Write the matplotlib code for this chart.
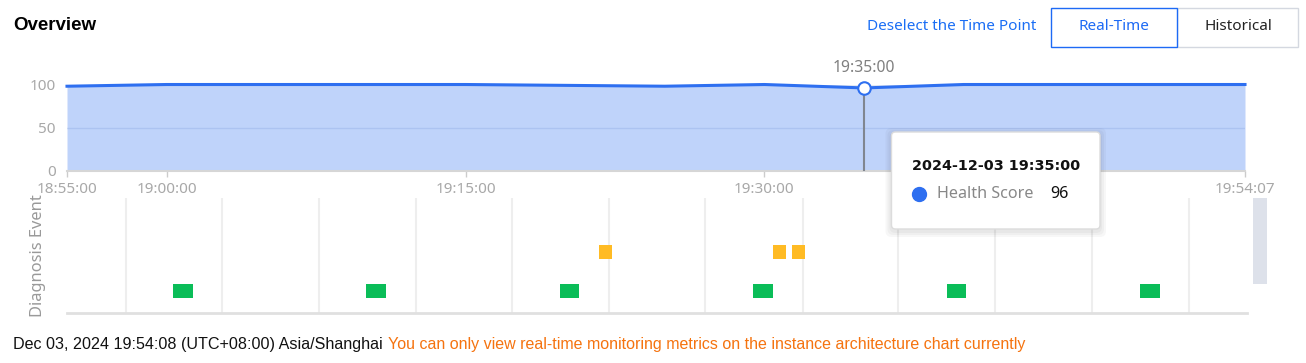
import matplotlib
matplotlib.use('Agg')
import matplotlib.pyplot as plt
from matplotlib.patches import Rectangle, FancyBboxPatch

# health score, sampled every 5 min
score_times = ['18:55:00', '19:00:00', '19:05:00', '19:10:00', '19:15:00', '19:20:00',
               '19:25:00', '19:30:00', '19:35:00', '19:40:00', '19:45:00', '19:50:00', '19:54:07']
score_values = [98, 100, 100, 100, 100, 99, 98, 100, 96, 100, 100, 100, 100]

x_tick_times = ['18:55:00', '19:00:00', '19:15:00', '19:30:00', '19:54:07']
y_ticks = [0, 50, 100]

selected_time = '19:35:00'
selected_value = 96

# diagnosis events
green_events = ['19:00:49', '19:10:30', '19:20:14', '19:29:56', '19:39:39', '19:49:21']
yellow_events = ['19:22:01', '19:30:45', '19:31:43']
event_grid = ['18:57:57', '19:02:48', '19:07:39', '19:12:30', '19:17:20', '19:22:11',
              '19:27:02', '19:31:56', '19:36:43', '19:41:35', '19:46:25', '19:51:19']

footer_time = 'Dec 03, 2024 19:54:08 (UTC+08:00) Asia/Shanghai'
footer_note = 'You can only view real-time monitoring metrics on the instance architecture chart currently'


def to_min(s):
    h, m, sec = map(int, s.split(':'))
    return h * 60 + m + sec / 60 - (18 * 60 + 55)


BLUE = '#2e6ff0'
GRAY = '#a8a8a8'
plt.rcParams['font.family'] = ['Noto Sans', 'DejaVu Sans']

fig = plt.figure(figsize=(13.06, 3.63), dpi=100)
W, H = 1306, 363


def px_axes(x0, y0, x1, y1):
    return fig.add_axes([x0 / W, 1 - y1 / H, (x1 - x0) / W, (y1 - y0) / H])


xmax = to_min('19:54:07')

# ---- top chart
ax = px_axes(67, 84.5, 1245, 170.5)
xs = [to_min(t) for t in score_times]
ax.fill_between(xs, score_values, 0, color=BLUE, alpha=0.3, lw=0, zorder=2)
ax.plot(xs, score_values, color=BLUE, lw=2.2, zorder=3, clip_on=False)
ax.set_xlim(0, xmax)
ax.set_ylim(0, 100)
ax.set_yticks(y_ticks)
ax.set_xticks([to_min(t) for t in x_tick_times])
ax.set_xticklabels(x_tick_times)
ax.tick_params(axis='y', length=0, pad=8, labelsize=11, labelcolor=GRAY)
ax.tick_params(axis='x', length=4, width=1, color='#cccccc', pad=4, labelsize=11, labelcolor=GRAY)
ax.grid(axis='y', color='#e3e8f2', lw=1, zorder=1)
for side in ['top', 'right', 'left']:
    ax.spines[side].set_visible(False)
ax.spines['bottom'].set_color('#d6d6d6')
ax.spines['bottom'].set_linewidth(1.5)

sx = to_min(selected_time)
ax.vlines(sx, 0, selected_value, color='#808690', lw=1.5, zorder=4)
ax.plot([sx], [selected_value], 'o', ms=9, mfc='white', mec=BLUE, mew=1.5, zorder=5, clip_on=False)
ax.annotate(selected_time, (sx, selected_value), xytext=(0, 20), textcoords='offset pixels',
            ha='center', va='center', fontsize=11.3, color='#808080', annotation_clip=False)

# ---- bottom chart
ax2 = px_axes(67, 198, 1247, 313.3)
ax2.set_xlim(0, xmax * 1180 / 1178)
ax2.set_ylim(0.43, 3.38)
ax2.bar([to_min(t) for t in green_events], 0.35, width=0.97, bottom=0.825, color='#0abd58', zorder=3)
ax2.bar([to_min(t) for t in yellow_events], 0.35, width=0.68, bottom=1.825, color='#ffbb24', zorder=3)
ax2.set_xticks([to_min(t) for t in event_grid])
ax2.set_xticklabels([])
ax2.set_yticks([])
ax2.tick_params(axis='x', length=0)
ax2.grid(axis='x', color='#eeeeee', lw=1.5, zorder=1)
for side in ['top', 'right', 'left']:
    ax2.spines[side].set_visible(False)
ax2.spines['bottom'].set_color('#e0e0e0')
ax2.spines['bottom'].set_linewidth(2)

# ---- overlay in pixel coords
ov = fig.add_axes([0, 0, 1, 1])
ov.set_xlim(0, W)
ov.set_ylim(H, 0)
ov.axis('off')

ov.text(13, 26, 'Overview', fontsize=13.5, fontweight='bold', color='black', ha='left', va='center',
        family='Liberation Sans')
ov.text(1036, 27, 'Deselect the Time Point', fontsize=11, color='#1a6ef5', ha='right', va='center')
ov.add_patch(Rectangle((1177, 7.5), 121, 39, fc='white', ec='#d4d8e0', lw=1))
ov.add_patch(Rectangle((1051, 7.5), 126, 39, fc='white', ec='#1d6af5', lw=1))
ov.text(1114, 27, 'Real-Time', fontsize=11, color='#1d6af5', ha='center', va='center')
ov.text(1238, 27, 'Historical', fontsize=11, color='#222222', ha='center', va='center')

ov.text(38, 256, 'Diagnosis Event', rotation=90, fontsize=11.8, color='#999999', ha='center', va='center')
ov.add_patch(Rectangle((1253, 198), 14, 86, fc='#dde1ea', ec='none'))

# tooltip
for i in range(3):
    d = 2 + i * 2
    ov.add_patch(FancyBboxPatch((891.5 - d, 132 - d + 2), 208.5 + 2 * d, 97 + 2 * d,
                                boxstyle='round,pad=0,rounding_size=6', fc='black', ec='none', alpha=0.03))
ov.add_patch(FancyBboxPatch((891.5, 132), 208.5, 97, boxstyle='round,pad=0,rounding_size=4',
                            fc='white', ec='#dcdcdc', lw=1))
ov.text(912, 166, '2024-12-03 19:35:00', fontsize=10.4, fontweight='bold', color='#111111',
        ha='left', va='center', family='DejaVu Sans')
ov.plot([918.5], [194], 'o', ms=10, color=BLUE)
ov.text(937, 194, 'Health Score', fontsize=11.6, color='#888888', ha='left', va='center')
ov.text(1050, 194, '96', fontsize=11.6, color='#111111', ha='left', va='center')

# footer
t1 = ov.text(13, 345, footer_time, fontsize=11.6, color='#111111', ha='left', va='center',
             family='Liberation Sans')
ov.annotate(footer_note, xy=(1, 0.5), xycoords=t1, xytext=(5, 0), textcoords='offset pixels',
            fontsize=11.55, color='#f5730f', ha='left', va='center', family='Liberation Sans')

fig.savefig('out.png', dpi=100)
